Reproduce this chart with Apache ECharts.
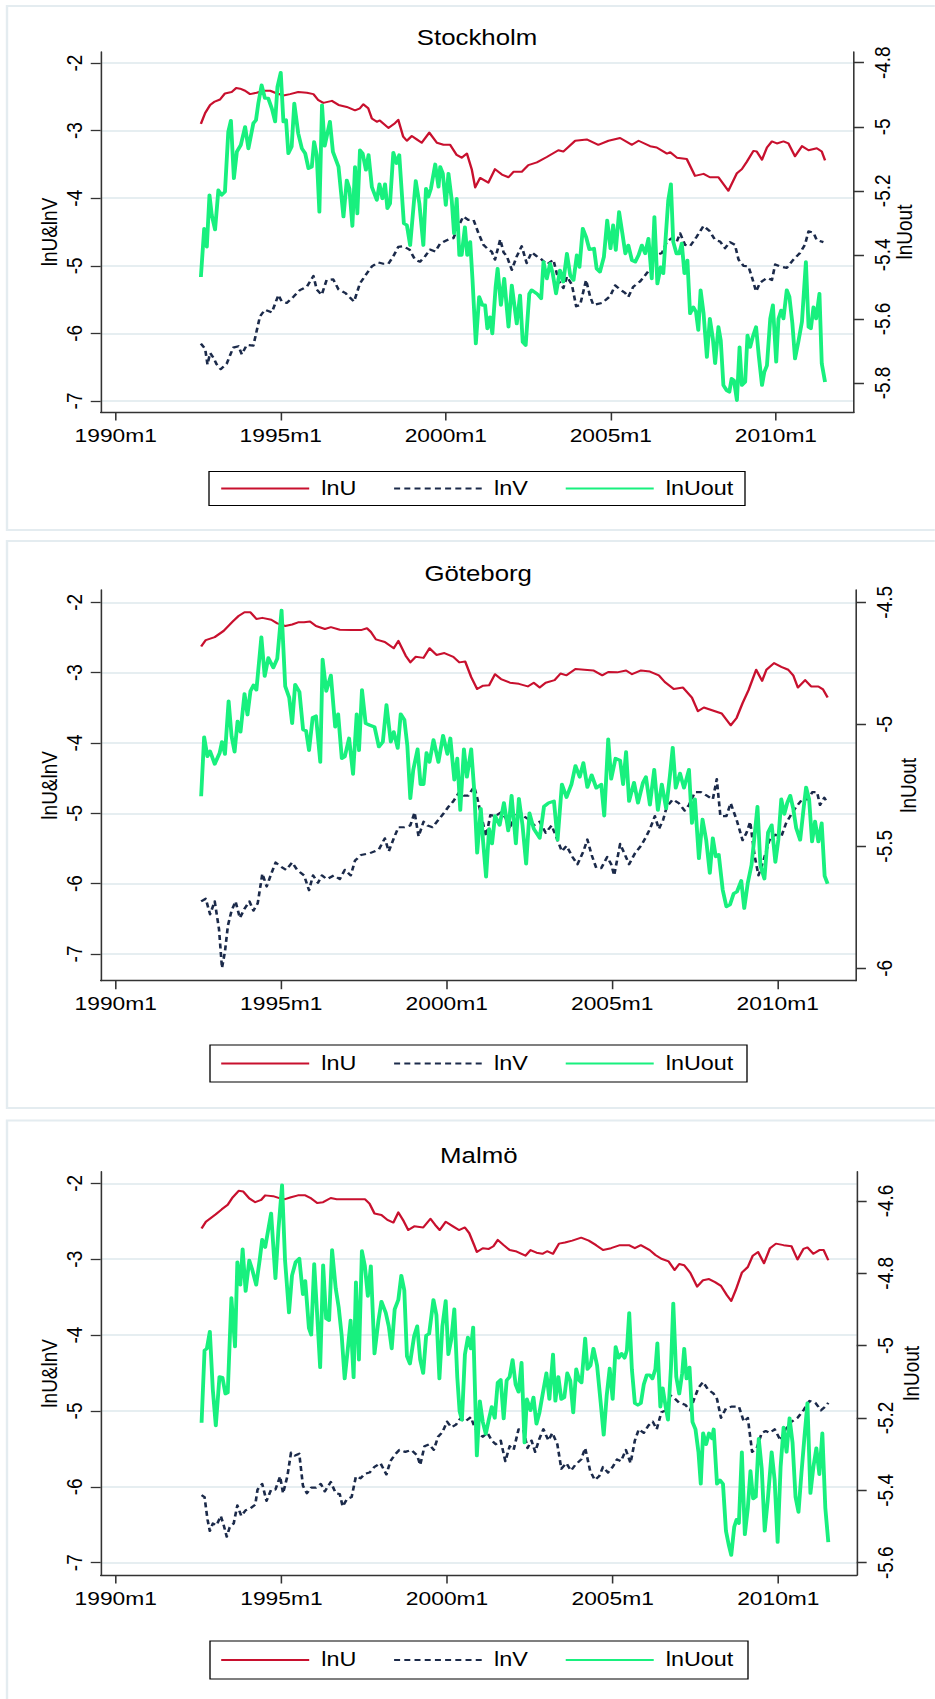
<!DOCTYPE html>
<html><head><meta charset="utf-8">
<script src="https://cdn.jsdelivr.net/npm/echarts@6/dist/echarts.min.js"></script>
<style>
html,body{margin:0;padding:0;background:#fff;overflow:hidden}
#wrap{width:935px;height:1699px;overflow:hidden;position:relative;background:#fff}
#c{width:779.1667px;height:1699px;transform:scaleX(1.2);transform-origin:0 0}
</style>
</head><body><div id="wrap"><div id="c"></div></div>
<script>
// ---------------- DATA (x = decimal year, y = log value) ----------------
const xTicks = [1990, 1995, 2000, 2005, 2010];
const leftTicks = [-7, -6, -5, -4, -3, -2];
const sthlmRightTicks = [-5.8, -5.6, -5.4, -5.2, -5, -4.8];
const gbgRightTicks = [-6, -5.5, -5, -4.5];
const malmoRightTicks = [-5.6, -5.4, -5.2, -5, -4.8, -4.6];
const seriesNames = ['lnU', 'lnV', 'lnUout'];
const panelTitles = ['Stockholm', 'Göteborg', 'Malmö'];

const sthlm_lnU = [[1992.58,-2.90],[1992.71,-2.74],[1992.86,-2.62],[1993.0,-2.57],[1993.16,-2.54],[1993.31,-2.45],[1993.51,-2.43],[1993.65,-2.37],[1993.77,-2.38],[1993.92,-2.41],[1994.07,-2.46],[1994.27,-2.44],[1994.47,-2.41],[1994.68,-2.41],[1994.83,-2.44],[1995.08,-2.48],[1995.28,-2.46],[1995.53,-2.43],[1995.79,-2.44],[1995.99,-2.46],[1996.14,-2.55],[1996.29,-2.59],[1996.55,-2.56],[1996.75,-2.62],[1997.0,-2.65],[1997.25,-2.70],[1997.40,-2.67],[1997.50,-2.61],[1997.65,-2.67],[1997.76,-2.82],[1997.91,-2.87],[1998.0,-2.85],[1998.26,-2.96],[1998.46,-2.89],[1998.56,-2.84],[1998.71,-3.09],[1998.82,-3.15],[1998.97,-3.08],[1999.12,-3.13],[1999.27,-3.18],[1999.5,-3.03],[1999.73,-3.18],[1999.93,-3.21],[2000.13,-3.21],[2000.33,-3.36],[2000.48,-3.40],[2000.64,-3.34],[2000.79,-3.58],[2000.89,-3.84],[2001.04,-3.70],[2001.29,-3.77],[2001.49,-3.57],[2001.70,-3.65],[2001.90,-3.69],[2002.05,-3.61],[2002.30,-3.61],[2002.50,-3.51],[2002.76,-3.47],[2003.06,-3.39],[2003.41,-3.29],[2003.56,-3.31],[2003.92,-3.15],[2004.27,-3.13],[2004.62,-3.21],[2004.93,-3.15],[2005.28,-3.11],[2005.64,-3.21],[2005.84,-3.15],[2006.19,-3.23],[2006.39,-3.25],[2006.70,-3.34],[2006.80,-3.32],[2007.0,-3.40],[2007.30,-3.42],[2007.55,-3.67],[2007.81,-3.64],[2008.0,-3.69],[2008.26,-3.69],[2008.56,-3.89],[2008.82,-3.63],[2008.97,-3.57],[2009.12,-3.46],[2009.32,-3.30],[2009.42,-3.31],[2009.58,-3.43],[2009.73,-3.25],[2009.88,-3.16],[2010.03,-3.19],[2010.23,-3.16],[2010.38,-3.19],[2010.58,-3.38],[2010.79,-3.23],[2010.99,-3.29],[2011.24,-3.26],[2011.39,-3.31],[2011.49,-3.44]];

const sthlm_lnV = [[1992.58,-6.15],[1992.71,-6.23],[1992.78,-6.46],[1992.86,-6.29],[1992.96,-6.36],[1993.06,-6.46],[1993.18,-6.53],[1993.36,-6.45],[1993.56,-6.21],[1993.72,-6.19],[1993.82,-6.31],[1993.97,-6.17],[1994.17,-6.18],[1994.37,-5.75],[1994.52,-5.65],[1994.73,-5.69],[1994.93,-5.43],[1995.03,-5.53],[1995.18,-5.55],[1995.38,-5.46],[1995.58,-5.36],[1995.79,-5.31],[1995.99,-5.15],[1996.09,-5.35],[1996.24,-5.43],[1996.39,-5.21],[1996.59,-5.20],[1996.75,-5.35],[1996.95,-5.40],[1997.22,-5.53],[1997.40,-5.26],[1997.61,-5.11],[1997.76,-5.01],[1997.96,-4.95],[1998.11,-4.97],[1998.26,-4.97],[1998.41,-4.86],[1998.56,-4.72],[1998.71,-4.71],[1998.90,-4.76],[1999.07,-4.91],[1999.22,-4.94],[1999.37,-4.86],[1999.52,-4.76],[1999.68,-4.79],[1999.83,-4.67],[2000.08,-4.61],[2000.23,-4.59],[2000.38,-4.42],[2000.53,-4.27],[2000.68,-4.32],[2000.84,-4.32],[2000.99,-4.52],[2001.14,-4.69],[2001.29,-4.76],[2001.39,-4.79],[2001.49,-4.91],[2001.65,-4.61],[2001.75,-4.80],[2001.85,-4.86],[2002.0,-5.06],[2002.15,-4.86],[2002.30,-4.71],[2002.45,-4.96],[2002.60,-4.80],[2002.76,-4.86],[2002.91,-4.91],[2003.06,-4.98],[2003.26,-4.91],[2003.41,-5.21],[2003.56,-5.33],[2003.67,-5.16],[2003.82,-5.28],[2003.95,-5.60],[2004.07,-5.58],[2004.25,-5.21],[2004.37,-5.45],[2004.47,-5.58],[2004.73,-5.55],[2004.98,-5.45],[2005.13,-5.29],[2005.28,-5.35],[2005.43,-5.40],[2005.53,-5.46],[2005.68,-5.31],[2005.89,-5.23],[2006.09,-5.11],[2006.24,-5.01],[2006.39,-4.84],[2006.55,-4.81],[2006.70,-4.64],[2006.85,-4.59],[2007.0,-4.64],[2007.10,-4.52],[2007.25,-4.69],[2007.40,-4.71],[2007.60,-4.57],[2007.81,-4.41],[2008.0,-4.49],[2008.16,-4.62],[2008.31,-4.64],[2008.46,-4.74],[2008.61,-4.65],[2008.76,-4.69],[2008.87,-4.91],[2009.02,-5.00],[2009.17,-5.01],[2009.27,-5.16],[2009.40,-5.38],[2009.52,-5.25],[2009.73,-5.18],[2009.88,-5.21],[2009.98,-4.98],[2010.13,-5.01],[2010.33,-5.03],[2010.53,-4.91],[2010.73,-4.81],[2010.88,-4.69],[2010.99,-4.49],[2011.14,-4.51],[2011.24,-4.62],[2011.44,-4.65]];

const sthlm_lnUout = [[1992.58,-5.469],[1992.68,-5.318],[1992.76,-5.375],[1992.84,-5.213],[1992.91,-5.276],[1993.01,-5.321],[1993.11,-5.198],[1993.21,-5.213],[1993.31,-5.203],[1993.41,-5.016],[1993.49,-4.981],[1993.58,-5.161],[1993.67,-5.078],[1993.79,-5.057],[1993.92,-5.0],[1994.02,-5.068],[1994.17,-4.989],[1994.25,-4.979],[1994.32,-4.927],[1994.42,-4.870],[1994.52,-4.911],[1994.62,-4.911],[1994.73,-4.943],[1994.83,-4.984],[1994.90,-4.875],[1995.0,-4.831],[1995.08,-4.984],[1995.16,-4.979],[1995.23,-5.083],[1995.33,-5.062],[1995.41,-4.927],[1995.53,-5.021],[1995.64,-5.068],[1995.74,-5.083],[1995.84,-5.130],[1995.94,-5.125],[1996.01,-5.047],[1996.09,-5.088],[1996.17,-5.266],[1996.25,-4.932],[1996.33,-5.060],[1996.49,-4.984],[1996.58,-5.078],[1996.75,-5.125],[1996.90,-5.281],[1997.0,-5.167],[1997.08,-5.193],[1997.17,-5.310],[1997.25,-5.125],[1997.32,-5.271],[1997.40,-5.073],[1997.48,-5.083],[1997.58,-5.135],[1997.66,-5.088],[1997.76,-5.188],[1997.91,-5.229],[1997.99,-5.179],[1998.08,-5.224],[1998.16,-5.179],[1998.23,-5.255],[1998.31,-5.240],[1998.41,-5.081],[1998.51,-5.114],[1998.59,-5.088],[1998.73,-5.302],[1998.82,-5.307],[1998.92,-5.370],[1999.09,-5.169],[1999.20,-5.240],[1999.32,-5.370],[1999.40,-5.193],[1999.47,-5.219],[1999.55,-5.193],[1999.68,-5.117],[1999.78,-5.188],[1999.83,-5.125],[1999.91,-5.146],[2000.0,-5.245],[2000.08,-5.146],[2000.18,-5.229],[2000.25,-5.333],[2000.33,-5.224],[2000.41,-5.401],[2000.48,-5.401],[2000.58,-5.313],[2000.65,-5.401],[2000.74,-5.359],[2000.81,-5.479],[2000.91,-5.677],[2001.01,-5.531],[2001.11,-5.557],[2001.19,-5.557],[2001.26,-5.630],[2001.34,-5.594],[2001.41,-5.646],[2001.51,-5.500],[2001.57,-5.443],[2001.67,-5.557],[2001.77,-5.474],[2001.90,-5.625],[2002.0,-5.495],[2002.15,-5.615],[2002.25,-5.526],[2002.33,-5.672],[2002.42,-5.682],[2002.53,-5.521],[2002.60,-5.510],[2002.76,-5.521],[2002.89,-5.536],[2002.96,-5.422],[2003.06,-5.474],[2003.16,-5.427],[2003.24,-5.458],[2003.34,-5.521],[2003.46,-5.448],[2003.56,-5.484],[2003.67,-5.396],[2003.77,-5.464],[2003.87,-5.479],[2003.97,-5.401],[2004.05,-5.438],[2004.15,-5.318],[2004.25,-5.344],[2004.35,-5.383],[2004.49,-5.380],[2004.57,-5.443],[2004.67,-5.453],[2004.79,-5.406],[2004.89,-5.292],[2004.99,-5.380],[2005.07,-5.307],[2005.15,-5.385],[2005.25,-5.266],[2005.35,-5.333],[2005.44,-5.396],[2005.53,-5.370],[2005.64,-5.417],[2005.74,-5.422],[2005.84,-5.401],[2005.94,-5.370],[2006.04,-5.396],[2006.14,-5.349],[2006.24,-5.474],[2006.32,-5.281],[2006.41,-5.490],[2006.51,-5.438],[2006.59,-5.458],[2006.67,-5.333],[2006.74,-5.229],[2006.82,-5.179],[2006.89,-5.359],[2006.99,-5.396],[2007.07,-5.396],[2007.15,-5.364],[2007.23,-5.458],[2007.32,-5.417],[2007.40,-5.583],[2007.50,-5.563],[2007.58,-5.578],[2007.65,-5.635],[2007.72,-5.510],[2007.81,-5.583],[2007.91,-5.719],[2008.0,-5.599],[2008.09,-5.661],[2008.16,-5.739],[2008.26,-5.625],[2008.33,-5.667],[2008.41,-5.807],[2008.51,-5.823],[2008.59,-5.828],[2008.66,-5.786],[2008.73,-5.792],[2008.82,-5.854],[2008.90,-5.688],[2008.97,-5.807],[2009.07,-5.797],[2009.14,-5.651],[2009.22,-5.688],[2009.30,-5.656],[2009.40,-5.625],[2009.48,-5.713],[2009.58,-5.807],[2009.65,-5.766],[2009.73,-5.745],[2009.83,-5.599],[2009.91,-5.557],[2010.01,-5.734],[2010.08,-5.599],[2010.16,-5.573],[2010.23,-5.599],[2010.33,-5.510],[2010.41,-5.531],[2010.50,-5.614],[2010.58,-5.724],[2010.68,-5.672],[2010.79,-5.609],[2010.91,-5.422],[2010.99,-5.625],[2011.06,-5.630],[2011.14,-5.563],[2011.22,-5.599],[2011.32,-5.521],[2011.39,-5.739],[2011.49,-5.797]];

const gbg_lnU = [[1992.58,-2.627],[1992.72,-2.537],[1992.99,-2.495],[1993.26,-2.406],[1993.53,-2.274],[1993.71,-2.195],[1993.89,-2.142],[1994.07,-2.142],[1994.25,-2.237],[1994.43,-2.221],[1994.70,-2.248],[1994.88,-2.300],[1995.12,-2.337],[1995.33,-2.316],[1995.51,-2.285],[1995.69,-2.285],[1995.87,-2.274],[1996.05,-2.337],[1996.32,-2.379],[1996.50,-2.353],[1996.77,-2.390],[1997.14,-2.395],[1997.41,-2.395],[1997.59,-2.369],[1997.71,-2.422],[1997.86,-2.527],[1998.13,-2.564],[1998.40,-2.653],[1998.54,-2.548],[1998.76,-2.759],[1998.90,-2.854],[1999.06,-2.775],[1999.30,-2.790],[1999.48,-2.653],[1999.69,-2.748],[1999.93,-2.722],[2000.20,-2.775],[2000.38,-2.854],[2000.56,-2.843],[2000.74,-3.064],[2000.92,-3.233],[2001.10,-3.185],[2001.28,-3.180],[2001.46,-3.022],[2001.64,-3.091],[2001.91,-3.143],[2002.18,-3.159],[2002.45,-3.196],[2002.63,-3.143],[2002.81,-3.212],[2002.99,-3.143],[2003.26,-3.106],[2003.44,-3.012],[2003.62,-3.038],[2003.89,-2.948],[2004.16,-2.959],[2004.43,-2.969],[2004.70,-3.038],[2004.88,-2.991],[2005.15,-2.996],[2005.42,-2.969],[2005.60,-3.022],[2005.87,-2.969],[2006.14,-2.985],[2006.41,-3.038],[2006.59,-3.133],[2006.86,-3.233],[2007.14,-3.212],[2007.41,-3.354],[2007.59,-3.549],[2007.77,-3.496],[2008.04,-3.538],[2008.31,-3.581],[2008.58,-3.749],[2008.76,-3.644],[2008.94,-3.433],[2009.12,-3.249],[2009.35,-2.959],[2009.53,-3.117],[2009.66,-2.959],[2009.89,-2.864],[2010.11,-2.917],[2010.32,-2.959],[2010.47,-3.038],[2010.61,-3.212],[2010.83,-3.106],[2011.01,-3.196],[2011.23,-3.196],[2011.37,-3.238],[2011.51,-3.354]];

const gbg_lnV = [[1992.58,-6.252],[1992.72,-6.215],[1992.85,-6.436],[1992.99,-6.252],[1993.12,-6.647],[1993.21,-7.200],[1993.30,-6.963],[1993.39,-6.594],[1993.50,-6.384],[1993.62,-6.252],[1993.75,-6.489],[1993.89,-6.357],[1994.04,-6.252],[1994.16,-6.384],[1994.29,-6.278],[1994.43,-5.857],[1994.56,-6.041],[1994.70,-5.857],[1994.83,-5.699],[1994.97,-5.751],[1995.15,-5.804],[1995.33,-5.699],[1995.48,-5.804],[1995.69,-5.883],[1995.84,-6.094],[1995.96,-5.883],[1996.11,-5.988],[1996.23,-5.883],[1996.38,-5.936],[1996.59,-5.883],[1996.77,-5.936],[1996.92,-5.804],[1997.10,-5.883],[1997.23,-5.672],[1997.41,-5.593],[1997.68,-5.567],[1997.95,-5.514],[1998.13,-5.356],[1998.25,-5.541],[1998.40,-5.356],[1998.54,-5.198],[1998.72,-5.198],[1998.90,-5.172],[1999.03,-4.987],[1999.15,-5.330],[1999.30,-5.119],[1999.42,-5.172],[1999.57,-5.198],[1999.75,-5.093],[1999.93,-4.987],[2000.05,-4.908],[2000.20,-4.829],[2000.38,-4.698],[2000.52,-4.750],[2000.65,-4.750],[2000.83,-4.619],[2000.92,-4.777],[2001.06,-5.066],[2001.19,-5.330],[2001.32,-5.024],[2001.46,-5.040],[2001.64,-4.987],[2001.78,-5.066],[2001.91,-5.224],[2002.04,-5.014],[2002.18,-4.961],[2002.32,-5.040],[2002.50,-5.093],[2002.63,-5.172],[2002.81,-5.119],[2002.99,-5.277],[2003.17,-5.172],[2003.35,-5.383],[2003.48,-5.541],[2003.62,-5.462],[2003.80,-5.620],[2003.95,-5.725],[2004.13,-5.541],[2004.25,-5.372],[2004.38,-5.593],[2004.52,-5.778],[2004.67,-5.778],[2004.85,-5.620],[2004.97,-5.725],[2005.06,-5.883],[2005.24,-5.435],[2005.39,-5.593],[2005.51,-5.725],[2005.69,-5.567],[2005.87,-5.462],[2006.0,-5.356],[2006.14,-5.224],[2006.29,-5.040],[2006.41,-5.224],[2006.54,-5.093],[2006.65,-4.908],[2006.83,-4.803],[2007.01,-4.856],[2007.19,-4.961],[2007.32,-4.882],[2007.50,-4.698],[2007.68,-4.698],[2007.86,-4.750],[2008.04,-4.803],[2008.16,-4.513],[2008.27,-5.040],[2008.45,-5.040],[2008.58,-4.856],[2008.76,-5.093],[2008.94,-5.383],[2009.06,-5.277],[2009.17,-5.119],[2009.30,-5.593],[2009.42,-5.883],[2009.57,-5.672],[2009.75,-5.383],[2009.93,-5.304],[2010.11,-5.330],[2010.25,-5.145],[2010.38,-5.040],[2010.56,-4.908],[2010.74,-4.803],[2010.92,-4.803],[2011.05,-4.698],[2011.19,-4.698],[2011.28,-4.882],[2011.41,-4.777],[2011.51,-4.856]];

const gbg_lnUout = [[1992.58,-5.295],[1992.67,-5.052],[1992.77,-5.132],[1992.85,-5.110],[1992.99,-5.163],[1993.14,-5.117],[1993.21,-5.072],[1993.30,-5.122],[1993.41,-4.905],[1993.50,-5.049],[1993.59,-5.113],[1993.68,-4.988],[1993.77,-5.031],[1993.89,-4.875],[1993.98,-4.961],[1994.07,-4.864],[1994.16,-4.840],[1994.25,-4.859],[1994.40,-4.643],[1994.50,-4.803],[1994.61,-4.728],[1994.76,-4.768],[1994.88,-4.731],[1995.01,-4.533],[1995.12,-4.844],[1995.24,-4.890],[1995.33,-4.996],[1995.42,-4.837],[1995.55,-4.867],[1995.66,-5.022],[1995.75,-5.026],[1995.84,-5.107],[1995.95,-4.973],[1996.05,-4.966],[1996.18,-5.155],[1996.25,-4.734],[1996.36,-4.864],[1996.50,-4.799],[1996.63,-5.011],[1996.72,-4.958],[1996.83,-5.140],[1996.92,-5.133],[1997.05,-5.057],[1997.17,-5.204],[1997.28,-4.958],[1997.35,-5.107],[1997.44,-4.859],[1997.55,-4.996],[1997.68,-5.004],[1997.82,-5.011],[1997.95,-5.092],[1998.07,-5.072],[1998.18,-4.920],[1998.31,-5.072],[1998.40,-5.031],[1998.52,-5.098],[1998.61,-4.958],[1998.72,-4.981],[1998.81,-5.087],[1998.90,-5.304],[1998.99,-5.186],[1999.12,-5.102],[1999.21,-5.246],[1999.30,-5.246],[1999.39,-5.117],[1999.48,-5.155],[1999.60,-5.064],[1999.75,-5.155],[1999.89,-5.046],[2000.02,-5.122],[2000.11,-5.057],[2000.23,-5.228],[2000.32,-5.140],[2000.41,-5.352],[2000.52,-5.102],[2000.61,-5.216],[2000.74,-5.102],[2000.83,-5.269],[2000.92,-5.527],[2001.03,-5.345],[2001.10,-5.481],[2001.19,-5.625],[2001.28,-5.428],[2001.37,-5.489],[2001.46,-5.375],[2001.60,-5.413],[2001.73,-5.322],[2001.86,-5.436],[2001.96,-5.292],[2002.09,-5.489],[2002.18,-5.304],[2002.29,-5.413],[2002.40,-5.572],[2002.50,-5.364],[2002.63,-5.428],[2002.81,-5.466],[2002.94,-5.337],[2003.08,-5.322],[2003.24,-5.315],[2003.35,-5.474],[2003.48,-5.246],[2003.62,-5.299],[2003.77,-5.246],[2003.89,-5.170],[2004.02,-5.216],[2004.13,-5.158],[2004.25,-5.258],[2004.38,-5.208],[2004.52,-5.261],[2004.67,-5.246],[2004.76,-5.375],[2004.88,-5.061],[2004.97,-5.224],[2005.10,-5.140],[2005.24,-5.148],[2005.33,-5.246],[2005.42,-5.113],[2005.51,-5.315],[2005.66,-5.239],[2005.78,-5.322],[2005.93,-5.239],[2006.02,-5.216],[2006.14,-5.330],[2006.27,-5.186],[2006.38,-5.352],[2006.50,-5.246],[2006.63,-5.345],[2006.74,-5.216],[2006.83,-5.095],[2006.92,-5.261],[2007.05,-5.201],[2007.17,-5.261],[2007.32,-5.186],[2007.41,-5.405],[2007.50,-5.307],[2007.62,-5.550],[2007.73,-5.390],[2007.84,-5.474],[2007.95,-5.610],[2008.04,-5.466],[2008.13,-5.542],[2008.22,-5.534],[2008.34,-5.679],[2008.45,-5.747],[2008.56,-5.739],[2008.67,-5.694],[2008.77,-5.686],[2008.90,-5.641],[2008.99,-5.754],[2009.10,-5.648],[2009.21,-5.577],[2009.30,-5.459],[2009.39,-5.337],[2009.48,-5.580],[2009.60,-5.633],[2009.71,-5.443],[2009.82,-5.413],[2009.93,-5.565],[2010.02,-5.474],[2010.11,-5.307],[2010.20,-5.368],[2010.29,-5.322],[2010.38,-5.292],[2010.47,-5.345],[2010.56,-5.425],[2010.68,-5.474],[2010.79,-5.337],[2010.86,-5.258],[2010.95,-5.307],[2011.04,-5.481],[2011.13,-5.398],[2011.23,-5.481],[2011.33,-5.405],[2011.42,-5.622],[2011.51,-5.653]];

const malmo_lnU = [[1992.59,-2.596],[1992.72,-2.507],[1992.84,-2.467],[1993.02,-2.408],[1993.20,-2.343],[1993.38,-2.283],[1993.53,-2.184],[1993.71,-2.099],[1993.85,-2.109],[1994.03,-2.199],[1994.21,-2.249],[1994.39,-2.219],[1994.51,-2.159],[1994.75,-2.169],[1994.96,-2.199],[1995.11,-2.209],[1995.29,-2.184],[1995.50,-2.159],[1995.72,-2.159],[1995.90,-2.199],[1996.08,-2.258],[1996.26,-2.249],[1996.49,-2.194],[1996.67,-2.209],[1996.91,-2.209],[1997.12,-2.209],[1997.30,-2.209],[1997.52,-2.209],[1997.66,-2.268],[1997.81,-2.398],[1998.02,-2.418],[1998.20,-2.482],[1998.38,-2.517],[1998.53,-2.383],[1998.69,-2.497],[1998.83,-2.616],[1999.01,-2.567],[1999.28,-2.582],[1999.50,-2.467],[1999.64,-2.547],[1999.78,-2.616],[1999.96,-2.507],[2000.18,-2.567],[2000.36,-2.616],[2000.54,-2.582],[2000.67,-2.656],[2000.81,-2.805],[2000.90,-2.905],[2001.08,-2.855],[2001.26,-2.865],[2001.40,-2.830],[2001.53,-2.746],[2001.71,-2.815],[2001.89,-2.880],[2002.07,-2.895],[2002.25,-2.929],[2002.37,-2.954],[2002.52,-2.880],[2002.70,-2.915],[2002.88,-2.929],[2003.02,-2.895],[2003.20,-2.929],[2003.38,-2.795],[2003.56,-2.780],[2003.78,-2.755],[2004.05,-2.716],[2004.28,-2.755],[2004.50,-2.815],[2004.71,-2.880],[2004.95,-2.855],[2005.22,-2.815],[2005.49,-2.815],[2005.67,-2.855],[2005.85,-2.815],[2006.12,-2.880],[2006.29,-2.944],[2006.47,-2.994],[2006.69,-3.029],[2006.87,-3.143],[2007.01,-3.064],[2007.16,-3.079],[2007.34,-3.178],[2007.55,-3.362],[2007.73,-3.277],[2007.91,-3.262],[2008.09,-3.302],[2008.27,-3.352],[2008.45,-3.476],[2008.58,-3.551],[2008.72,-3.402],[2008.90,-3.178],[2009.08,-3.103],[2009.23,-2.954],[2009.39,-2.905],[2009.57,-3.054],[2009.75,-2.855],[2009.93,-2.795],[2010.16,-2.815],[2010.40,-2.830],[2010.58,-3.004],[2010.76,-2.865],[2010.88,-2.845],[2011.06,-2.929],[2011.24,-2.880],[2011.37,-2.880],[2011.51,-3.014]];

const malmo_lnV = [[1992.59,-6.110],[1992.68,-6.135],[1992.77,-6.433],[1992.84,-6.582],[1992.93,-6.483],[1993.04,-6.508],[1993.17,-6.384],[1993.26,-6.508],[1993.35,-6.657],[1993.44,-6.533],[1993.56,-6.483],[1993.67,-6.244],[1993.79,-6.384],[1993.92,-6.309],[1994.06,-6.284],[1994.21,-6.235],[1994.28,-6.036],[1994.42,-5.961],[1994.55,-6.185],[1994.69,-6.036],[1994.82,-6.036],[1994.96,-5.862],[1995.05,-6.085],[1995.18,-5.862],[1995.29,-5.549],[1995.41,-5.588],[1995.54,-5.564],[1995.65,-5.986],[1995.77,-6.085],[1995.90,-6.011],[1996.04,-6.011],[1996.19,-5.961],[1996.31,-6.061],[1996.49,-5.936],[1996.64,-6.085],[1996.76,-6.095],[1996.85,-6.259],[1996.98,-6.160],[1997.12,-6.135],[1997.25,-5.862],[1997.39,-5.887],[1997.52,-5.827],[1997.66,-5.812],[1997.81,-5.738],[1997.99,-5.688],[1998.17,-5.837],[1998.29,-5.663],[1998.42,-5.579],[1998.56,-5.514],[1998.74,-5.539],[1998.92,-5.514],[1999.10,-5.588],[1999.19,-5.713],[1999.32,-5.464],[1999.46,-5.439],[1999.60,-5.514],[1999.73,-5.340],[1999.86,-5.280],[2000.0,-5.141],[2000.13,-5.216],[2000.27,-5.181],[2000.40,-5.101],[2000.54,-5.141],[2000.72,-5.082],[2000.81,-5.191],[2000.94,-5.290],[2001.08,-5.340],[2001.22,-5.290],[2001.35,-5.390],[2001.47,-5.439],[2001.62,-5.390],[2001.76,-5.663],[2001.89,-5.464],[2002.01,-5.514],[2002.16,-5.241],[2002.30,-5.241],[2002.43,-5.489],[2002.55,-5.390],[2002.66,-5.539],[2002.79,-5.365],[2002.91,-5.241],[2003.06,-5.390],[2003.18,-5.290],[2003.33,-5.439],[2003.45,-5.762],[2003.60,-5.688],[2003.74,-5.787],[2003.87,-5.713],[2004.05,-5.638],[2004.17,-5.489],[2004.32,-5.787],[2004.46,-5.911],[2004.59,-5.862],[2004.71,-5.738],[2004.86,-5.812],[2005.0,-5.738],[2005.13,-5.638],[2005.25,-5.663],[2005.40,-5.514],[2005.54,-5.688],[2005.67,-5.390],[2005.79,-5.241],[2005.94,-5.290],[2006.08,-5.191],[2006.21,-5.141],[2006.33,-5.241],[2006.47,-5.017],[2006.62,-4.992],[2006.74,-4.793],[2006.89,-4.843],[2007.01,-4.893],[2007.19,-4.918],[2007.34,-4.992],[2007.46,-4.843],[2007.59,-4.694],[2007.73,-4.619],[2007.88,-4.719],[2008.04,-4.768],[2008.15,-4.843],[2008.27,-5.091],[2008.42,-4.967],[2008.60,-4.942],[2008.81,-4.942],[2008.96,-5.141],[2009.08,-5.091],[2009.21,-5.539],[2009.35,-5.489],[2009.50,-5.290],[2009.62,-5.265],[2009.75,-5.290],[2009.89,-5.241],[2010.07,-5.390],[2010.22,-5.241],[2010.40,-5.141],[2010.58,-5.091],[2010.76,-4.992],[2010.94,-4.868],[2011.12,-4.893],[2011.29,-4.992],[2011.42,-4.942],[2011.51,-4.893]];

const malmo_lnUout = [[1992.59,-5.213],[1992.68,-5.013],[1992.75,-5.008],[1992.84,-4.961],[1992.93,-5.122],[1993.02,-5.221],[1993.13,-5.086],[1993.22,-5.088],[1993.31,-5.133],[1993.38,-5.130],[1993.49,-4.868],[1993.60,-5.003],[1993.67,-4.769],[1993.76,-4.832],[1993.83,-4.733],[1993.92,-4.849],[1994.03,-4.764],[1994.12,-4.790],[1994.24,-4.832],[1994.35,-4.759],[1994.42,-4.707],[1994.51,-4.728],[1994.60,-4.681],[1994.69,-4.634],[1994.82,-4.814],[1994.91,-4.679],[1995.02,-4.556],[1995.11,-4.764],[1995.23,-4.909],[1995.32,-4.806],[1995.43,-4.769],[1995.54,-4.759],[1995.65,-4.858],[1995.72,-4.821],[1995.83,-4.951],[1995.90,-4.970],[1995.99,-4.774],[1996.08,-4.915],[1996.17,-5.060],[1996.26,-4.777],[1996.35,-4.925],[1996.44,-4.930],[1996.53,-4.735],[1996.64,-4.842],[1996.73,-4.894],[1996.82,-4.972],[1996.91,-5.091],[1997.0,-5.013],[1997.09,-4.930],[1997.18,-5.088],[1997.25,-4.824],[1997.34,-5.039],[1997.43,-4.738],[1997.52,-4.780],[1997.61,-4.863],[1997.70,-4.780],[1997.81,-5.022],[1997.93,-4.930],[1998.02,-4.878],[1998.15,-4.909],[1998.24,-4.946],[1998.33,-5.008],[1998.42,-4.899],[1998.53,-4.873],[1998.62,-4.806],[1998.71,-4.847],[1998.79,-5.029],[1998.88,-5.050],[1999.01,-4.972],[1999.10,-4.946],[1999.19,-5.039],[1999.28,-5.076],[1999.37,-4.972],[1999.46,-4.967],[1999.59,-4.873],[1999.68,-4.915],[1999.77,-5.091],[1999.86,-4.946],[1999.96,-4.876],[2000.04,-5.024],[2000.13,-4.982],[2000.22,-4.899],[2000.31,-5.088],[2000.38,-5.182],[2000.45,-5.205],[2000.54,-5.024],[2000.63,-4.977],[2000.72,-5.008],[2000.79,-4.949],[2000.90,-5.304],[2000.99,-5.153],[2001.08,-5.211],[2001.17,-5.244],[2001.26,-5.205],[2001.35,-5.169],[2001.44,-5.200],[2001.53,-5.102],[2001.62,-5.094],[2001.71,-5.202],[2001.80,-5.096],[2001.89,-5.086],[2001.98,-5.039],[2002.07,-5.107],[2002.16,-5.128],[2002.25,-5.047],[2002.34,-5.268],[2002.41,-5.148],[2002.52,-5.179],[2002.61,-5.143],[2002.70,-5.216],[2002.79,-5.185],[2002.88,-5.138],[2003.0,-5.076],[2003.09,-5.148],[2003.20,-5.024],[2003.27,-5.153],[2003.36,-5.086],[2003.45,-5.148],[2003.54,-5.143],[2003.63,-5.076],[2003.72,-5.096],[2003.81,-5.185],[2003.90,-5.065],[2003.99,-5.096],[2004.06,-5.102],[2004.17,-4.980],[2004.24,-5.065],[2004.33,-5.055],[2004.42,-5.008],[2004.53,-5.055],[2004.64,-5.159],[2004.73,-5.247],[2004.82,-5.138],[2004.91,-5.063],[2005.0,-5.148],[2005.09,-5.003],[2005.18,-5.034],[2005.27,-5.022],[2005.36,-5.034],[2005.43,-5.013],[2005.50,-4.909],[2005.58,-5.065],[2005.67,-5.159],[2005.76,-5.164],[2005.85,-5.159],[2005.94,-5.107],[2006.03,-5.081],[2006.12,-5.081],[2006.20,-5.091],[2006.29,-5.065],[2006.35,-4.993],[2006.44,-5.169],[2006.51,-5.117],[2006.60,-5.169],[2006.67,-5.205],[2006.76,-5.060],[2006.83,-4.883],[2006.92,-5.086],[2007.01,-5.133],[2007.10,-5.076],[2007.16,-5.008],[2007.23,-5.091],[2007.32,-5.060],[2007.41,-5.211],[2007.50,-5.231],[2007.59,-5.294],[2007.66,-5.382],[2007.73,-5.242],[2007.82,-5.273],[2007.91,-5.242],[2008.0,-5.257],[2008.05,-5.231],[2008.15,-5.382],[2008.24,-5.372],[2008.33,-5.382],[2008.42,-5.512],[2008.51,-5.553],[2008.58,-5.579],[2008.67,-5.501],[2008.74,-5.481],[2008.81,-5.491],[2008.90,-5.294],[2008.99,-5.522],[2009.08,-5.449],[2009.16,-5.346],[2009.24,-5.423],[2009.32,-5.418],[2009.41,-5.257],[2009.50,-5.340],[2009.59,-5.512],[2009.68,-5.429],[2009.80,-5.294],[2009.89,-5.372],[2009.98,-5.543],[2010.07,-5.335],[2010.16,-5.226],[2010.25,-5.294],[2010.34,-5.200],[2010.43,-5.268],[2010.52,-5.418],[2010.61,-5.460],[2010.70,-5.351],[2010.79,-5.252],[2010.88,-5.159],[2010.97,-5.408],[2011.06,-5.335],[2011.15,-5.283],[2011.24,-5.356],[2011.33,-5.242],[2011.42,-5.449],[2011.51,-5.543]];

// ---------------- LAYOUT / STYLE ----------------
const S = 1.2;                 // horizontal stretch of the reference
const px = v => v / S;         // reference x-pixel -> canvas x
const FONT = '"Liberation Sans", Arial, Helvetica, sans-serif';
const RED = '#c8102e', NAVY = '#1b2a4a', GREEN = '#18f07e';
const AXC = '#333333', GRIDC = '#e6eef1', FRAMEC = '#e4ecf0';
const XMIN = 1989.545, XMAX = 2012.367;

const layout = [
  { data: [sthlm_lnU, sthlm_lnV, sthlm_lnUout], rTicks: sthlmRightTicks,
    top: 52, bottom: 412, right: 854, lMin: -7.163, lMax: -1.837, rMin: -5.8905, rMax: -4.7666,
    titleX: 477, titleY: 37.7, rNameGap: 32, legY: 488.5, box: [209, 471.5, 536, 34], frame: [6, 524] },
  { data: [gbg_lnU, gbg_lnV, gbg_lnUout], rTicks: gbgRightTicks,
    top: 590, bottom: 980.7, right: 856, lMin: -7.380, lMax: -1.825, rMin: -6.0508, rMax: -4.4496,
    titleX: 478.2, titleY: 573.5, rNameGap: 34, legY: 1063.5, box: [210, 1045, 537, 37], frame: [541, 567] },
  { data: [malmo_lnU, malmo_lnV, malmo_lnUout], rTicks: malmoRightTicks,
    top: 1171.7, bottom: 1575, right: 856.7, lMin: -7.162, lMax: -1.847, rMin: -5.634, rMax: -4.519,
    titleX: 478.8, titleY: 1156, rNameGap: 35.5, legY: 1660, box: [210, 1641, 538, 38], frame: [1120.5, 600] }
];

const LEFT = 100.7;
const txt = (size) => ({ fontFamily: FONT, fontSize: size, color: '#000' });
const grid = [], xAxis = [], yAxis = [], series = [], title = [], legend = [], graphic = [];

layout.forEach((p, i) => {
  grid.push({ left: px(LEFT), top: p.top, width: px(p.right - LEFT), height: p.bottom - p.top,
              containLabel: false, outerBoundsMode: 'none' });
  xAxis.push({
    type: 'value', gridIndex: i, min: XMIN, max: XMAX,
    axisLine: { show: true, onZero: false, lineStyle: { color: AXC, width: 1.3 } },
    axisTick: { show: true, length: 8.5, customValues: xTicks, lineStyle: { color: AXC, width: 1.3 } },
    axisLabel: { show: true, customValues: xTicks, formatter: v => v + 'm1', margin: 13.5, ...txt(19) },
    splitLine: { show: false }
  });
  yAxis.push({
    type: 'value', gridIndex: i, position: 'left', min: p.lMin, max: p.lMax,
    name: 'lnU&lnV', nameLocation: 'middle', nameRotate: 90, nameGap: 33.5, nameMoveOverlap: false,
    nameTextStyle: txt(19),
    axisLine: { show: true, onZero: false, lineStyle: { color: AXC, width: 1.3 } },
    axisTick: { show: true, length: 8.3, customValues: leftTicks, lineStyle: { color: AXC, width: 1.3 } },
    axisLabel: { show: true, customValues: leftTicks, rotate: 90, margin: 12.5, formatter: v => String(v), ...txt(19) },
    splitLine: { show: true, lineStyle: { color: GRIDC, width: 1.8 } }
  });
  yAxis.push({
    type: 'value', gridIndex: i, position: 'right', min: p.rMin, max: p.rMax,
    name: 'lnUout', nameLocation: 'middle', nameRotate: 90, nameGap: p.rNameGap, nameMoveOverlap: false,
    nameTextStyle: txt(19),
    axisLine: { show: true, onZero: false, lineStyle: { color: AXC, width: 1.3 } },
    axisTick: { show: true, length: 8.3, customValues: p.rTicks, lineStyle: { color: AXC, width: 1.3 } },
    axisLabel: { show: true, customValues: p.rTicks, rotate: 90, margin: 14, formatter: v => String(+(+v).toFixed(1)), ...txt(19) },
    splitLine: { show: false }
  });
  const styles = [
    { color: RED, width: 2, type: 'solid' },
    { color: NAVY, width: 2.2, type: [5, 3.5] },
    { color: GREEN, width: 3.2, type: 'solid' }
  ];
  p.data.forEach((d, k) => {
    series.push({
      type: 'line', name: seriesNames[k], xAxisIndex: i, yAxisIndex: k === 2 ? 2 * i + 1 : 2 * i,
      data: d, symbol: 'none', showSymbol: false, smooth: false, silent: true,
      itemStyle: { color: styles[k].color },
      lineStyle: { color: styles[k].color, width: styles[k].width, type: styles[k].type, join: 'round' },
      z: 2 + k
    });
  });
  title.push({ text: panelTitles[i], left: px(p.titleX), top: p.titleY, padding: 0,
               textAlign: 'center', textVerticalAlign: 'middle',
               textStyle: { fontFamily: FONT, fontSize: 21.5, fontWeight: 'normal', color: '#000' } });
  legend.push({ data: seriesNames, left: px(220), top: p.legY - 10, padding: 0, orient: 'horizontal',
                itemWidth: px(88), itemHeight: 14, itemGap: 30.5, selectedMode: false,
                itemStyle: { opacity: 0, borderWidth: 0 },
                textStyle: { fontFamily: FONT, fontSize: 19.5, color: '#000', padding: [0, 0, 0, 5] } });
  graphic.push({ type: 'rect', z: 0, silent: true,
                 shape: { x: px(7), y: p.frame[0], width: 800, height: p.frame[1] },
                 style: { fill: 'none', stroke: FRAMEC, lineWidth: 2 } });
  graphic.push({ type: 'rect', z: 1, silent: true,
                 shape: { x: px(p.box[0]), y: p.box[1], width: px(p.box[2]), height: p.box[3] },
                 style: { fill: 'none', stroke: '#000', lineWidth: 1.1 } });
});

const chart = echarts.init(document.getElementById('c'), null, { renderer: 'svg' });
chart.setOption({
  animation: false, backgroundColor: '#fff',
  title, legend, grid, xAxis, yAxis, series, graphic
});
</script>
</body></html>
